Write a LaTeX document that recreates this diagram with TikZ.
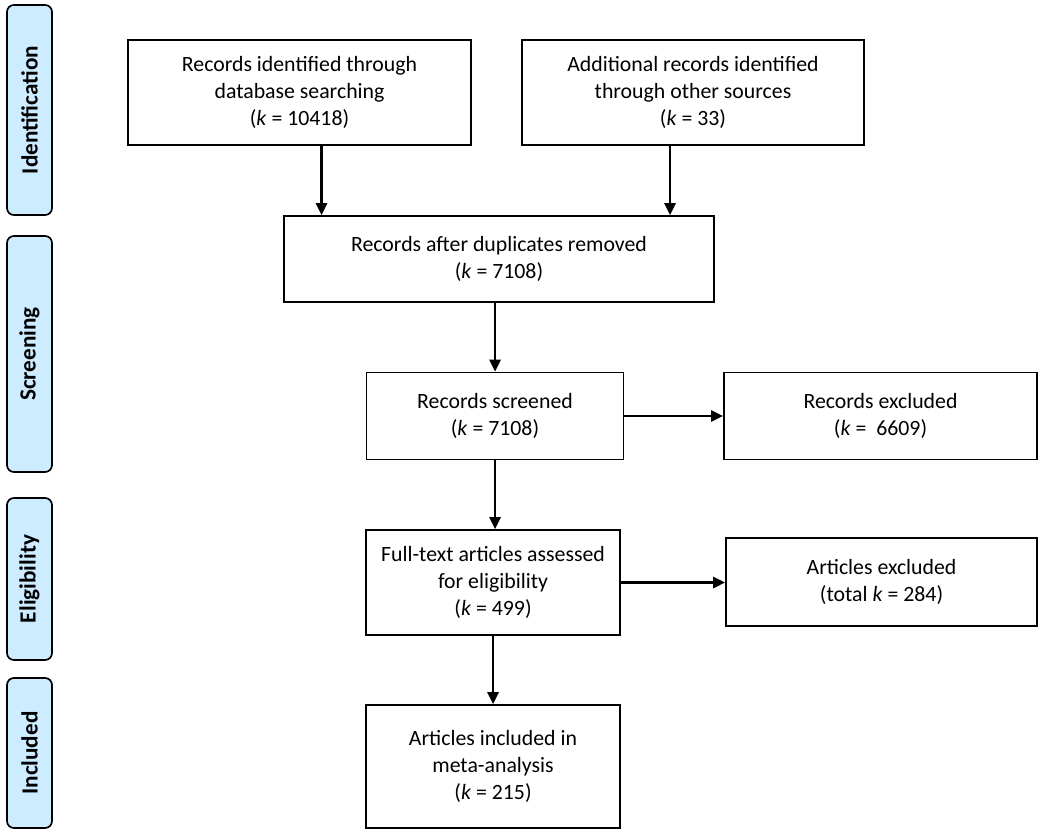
\documentclass[tikz,border=0pt]{standalone}
\usepackage{fontspec}
\setmainfont{Carlito}
\usepackage{tikz}
\usetikzlibrary{positioning,calc,arrows.meta}

\definecolor{phasefill}{RGB}{206,236,255}

\tikzset{
    recbox/.style={draw, rectangle, line width=1.2pt, align=center, inner sep=2pt,
        font=\fontsize{15.5}{19.5}\selectfont},
    phase/.style={draw, rectangle, rounded corners=5pt, line width=1.2pt, fill=phasefill,
        rotate=90, minimum height=1.125cm, font=\fontsize{16.5}{19}\selectfont\bfseries},
    arr/.style={line width=1.6pt, -{Triangle[length=0.3cm, width=0.28cm]}}
}

\begin{document}
\begin{tikzpicture}[x=0.025cm, y=-0.025cm]
    \useasboundingbox (0,0) rectangle (1050,834);

    % Phases
    \node [phase, minimum width=5.25cm] (ident) at (29.5,110) {Identification};
    \node [phase, minimum width=5.9cm] (screen) at (29.5,354) {Screening};
    \node [phase, minimum width=4.05cm] (elig) at (29.5,579) {Eligibility};
    \node [phase, minimum width=3.75cm] (incl) at (29.5,753) {Included};

    % Records
    \node [recbox, minimum width=8.575cm, minimum height=2.625cm] (search) at (299.5,92.5)
        {Records identified through\\database searching\\(\textit{k} = 10418)};
    \node [recbox, minimum width=8.55cm, minimum height=2.625cm] (other) at (693,92.5)
        {Additional records identified\\through other sources\\(\textit{k} = 33)};
    \node [recbox, minimum width=10.75cm, minimum height=2.15cm] (dedup) at (499,259)
        {Records after duplicates removed\\(\textit{k} = 7108)};
    \node [recbox, minimum width=6.425cm, minimum height=2.175cm] (screened) at (495,416)
        {Records screened\\(\textit{k} = 7108)};
    \node [recbox, minimum width=7.825cm, minimum height=2.175cm] (recexcl) at (880.5,416)
        {Records excluded\\(\textit{k} =\ \ 6609)};
    \node [recbox, minimum width=6.35cm, minimum height=2.625cm] (fulltext) at (493,582.5)
        {Full-text articles assessed\\for eligibility\\(\textit{k} = 499)};
    \node [recbox, minimum width=7.775cm, minimum height=2.2cm] (artexcl) at (881.5,582)
        {Articles excluded\\(total \textit{k} = 284)};
    \node [recbox, minimum width=6.35cm, minimum height=3.075cm] (meta) at (493,766.5)
        {Articles included in\\meta-analysis\\(\textit{k} = 215)};

    % Connections
    \draw [arr] ([xshift=0.55cm]search.south) -- ([xshift=0.55cm]search.south |- dedup.north);
    \draw [arr] ([xshift=-0.575cm]other.south) -- ([xshift=-0.575cm]other.south |- dedup.north);
    \draw [arr] (screened.north |- dedup.south) -- (screened.north);
    \draw [arr] (screened.east) -- (recexcl.west |- screened.east);
    \draw [arr] (screened.south) -- (fulltext.north -| screened.south);
    \draw [arr] (fulltext.east) -- (artexcl.west |- fulltext.east);
    \draw [arr] (fulltext.south) -- (meta.north);
\end{tikzpicture}
\end{document}
